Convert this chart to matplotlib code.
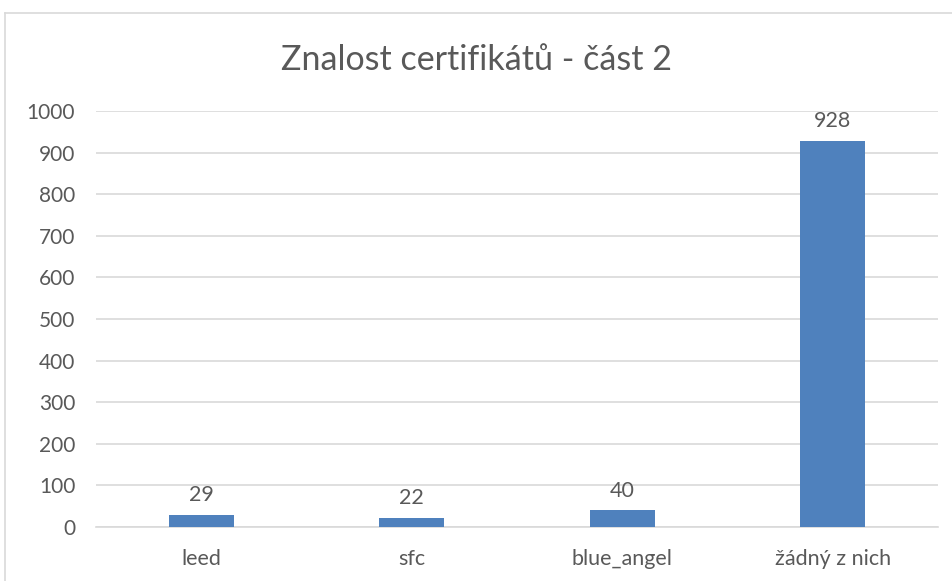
import matplotlib
matplotlib.use("Agg")
import matplotlib.pyplot as plt
from matplotlib.lines import Line2D

categories = ["leed", "sfc", "blue_angel", "žádný z nich"]
values = [29, 22, 40, 928]
yticks = list(range(0, 1001, 100))
title = "Znalost certifikátů - část 2"

plt.rcParams['font.family'] = ['Lato', 'DejaVu Sans']
txt = "#595959"
grid = "#D9D9D9"
bar_color = "#4F81BD"

fig = plt.figure(figsize=(9.53, 5.81), dpi=100)
W, H = 953, 581
ax = fig.add_axes([96 / W, 1 - 527 / H, (938 - 96) / W, (527 - 111) / H])

x = list(range(len(categories)))
ax.bar(x, values, width=0.31, color=bar_color, zorder=3)
for xi, v in zip(x, values):
    ax.annotate(str(v), (xi, v), xytext=(0, 7), textcoords="offset points",
                ha="center", va="bottom", fontsize=15.5, color=txt)

ax.set_xlim(-0.5, len(categories) - 0.5)
ax.set_ylim(0, 1000)
ax.set_yticks(yticks)
ax.set_yticklabels([str(t) for t in yticks], fontsize=15, color=txt)
ax.set_xticks(x)
ax.set_xticklabels(categories, fontsize=15.5, color=txt)
ax.tick_params(axis="x", length=0, pad=16)
ax.tick_params(axis="y", length=0, pad=15)
ax.grid(axis="y", color=grid, linewidth=1.2, zorder=0)
for s in ["top", "right", "left"]:
    ax.spines[s].set_visible(False)
ax.spines["bottom"].set_color(grid)
ax.spines["bottom"].set_linewidth(1.2)

fig.text(0.5, 1 - 60 / H, title, ha="center", va="center", fontsize=24.5, color=txt)

# chart border (top and left visible)
fig.add_artist(Line2D([4.5 / W, 4.5 / W], [0, 1 - 12.5 / H], transform=fig.transFigure,
                      color=grid, linewidth=1.2))
fig.add_artist(Line2D([4.5 / W, 1], [1 - 12.5 / H, 1 - 12.5 / H], transform=fig.transFigure,
                      color=grid, linewidth=1.2))

fig.savefig("out.png", dpi=100, facecolor="white")
